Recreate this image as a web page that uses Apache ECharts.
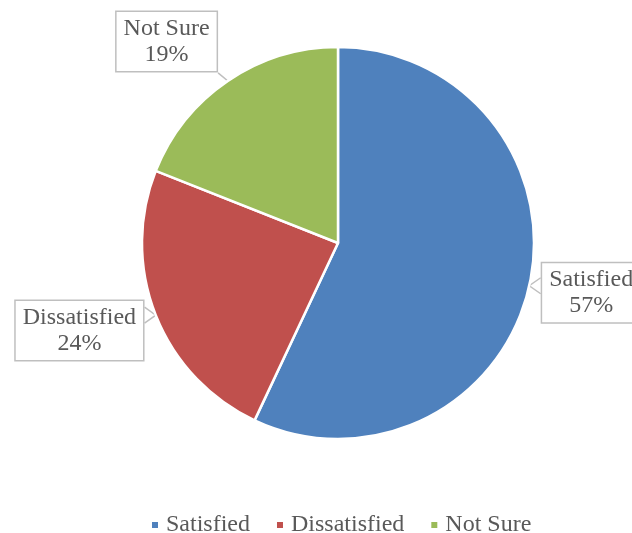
<!DOCTYPE html>
<html>
<head>
<meta charset="utf-8">
<script src="https://cdn.jsdelivr.net/npm/echarts@6/dist/echarts.min.js"></script>
<style>
  html, body { margin: 0; padding: 0; background: #fff; }
  #chart { width: 632px; height: 533px; }
</style>
</head>
<body>
<div id="chart"></div>
<script>
// Survey responses, share of respondents
const categories = ['Satisfied', 'Dissatisfied', 'Not Sure'];
const shares = [57, 24, 19];
const colors = ['#4F81BD', '#C0504D', '#9BBB59'];

// vertical nudge of each callout box (px), so boxes sit like Office-style callouts
const calloutShift = [6, 14, -36];

const chart = echarts.init(document.getElementById('chart'), null, { renderer: 'canvas' });

const serif = '"Liberation Serif", "Times New Roman", serif';

// Turn the leader line into a small callout notch: a "V" from the box edge to the slice rim
function calloutLayout(p) {
  const dy = calloutShift[p.dataIndex];
  const r = p.labelRect;
  const x0 = r.x, x1 = r.x + r.width, y1 = r.y + r.height + dy;
  const tip = p.labelLinePoints ? p.labelLinePoints[0] : null;
  const out = { dy: dy };
  if (tip) {
    const half = 8;
    if (tip[0] >= x1) {
      out.labelLinePoints = [[x1, tip[1] - half], tip, [x1, tip[1] + half]];
    } else if (tip[0] <= x0) {
      out.labelLinePoints = [[x0, tip[1] - half], tip, [x0, tip[1] + half]];
    } else {
      out.labelLinePoints = [[x1 - 19, y1], tip, [x1, y1]];
    }
  }
  return out;
}

chart.setOption({
  animation: false,
  color: colors,
  legend: {
    data: categories,
    bottom: -9,
    left: 145,
    icon: 'rect',
    itemWidth: 8,
    itemHeight: 8,
    itemGap: 25,
    textStyle: { fontFamily: serif, fontSize: 24, color: '#595959', padding: [0, 0, 0, 2] }
  },
  series: [{
    type: 'pie',
    left: 0,
    top: 0,
    right: -60,
    bottom: 0,
    center: [338, 243],
    radius: 196,
    startAngle: 90,
    clockwise: true,
    data: categories.map((c, i) => ({ name: c, value: shares[i] })),
    itemStyle: { borderColor: '#fff', borderWidth: 2.5 },
    label: {
      show: true,
      position: 'outside',
      overflow: 'none',
      formatter: p => '{t|' + p.name + '}\n{t|' + p.value + '%}',
      rich: {
        t: { fontFamily: serif, fontSize: 24, lineHeight: 26, color: '#595959', align: 'center' }
      },
      backgroundColor: '#fff',
      borderColor: '#BFBFBF',
      borderWidth: 1.5,
      padding: [4, 7, 3, 7]
    },
    labelLine: {
      show: true,
      length: 4,
      length2: 4,
      lineStyle: { color: '#BFBFBF', width: 1.5 }
    },
    labelLayout: calloutLayout,
    emphasis: { disabled: true }
  }]
});
</script>
</body>
</html>
